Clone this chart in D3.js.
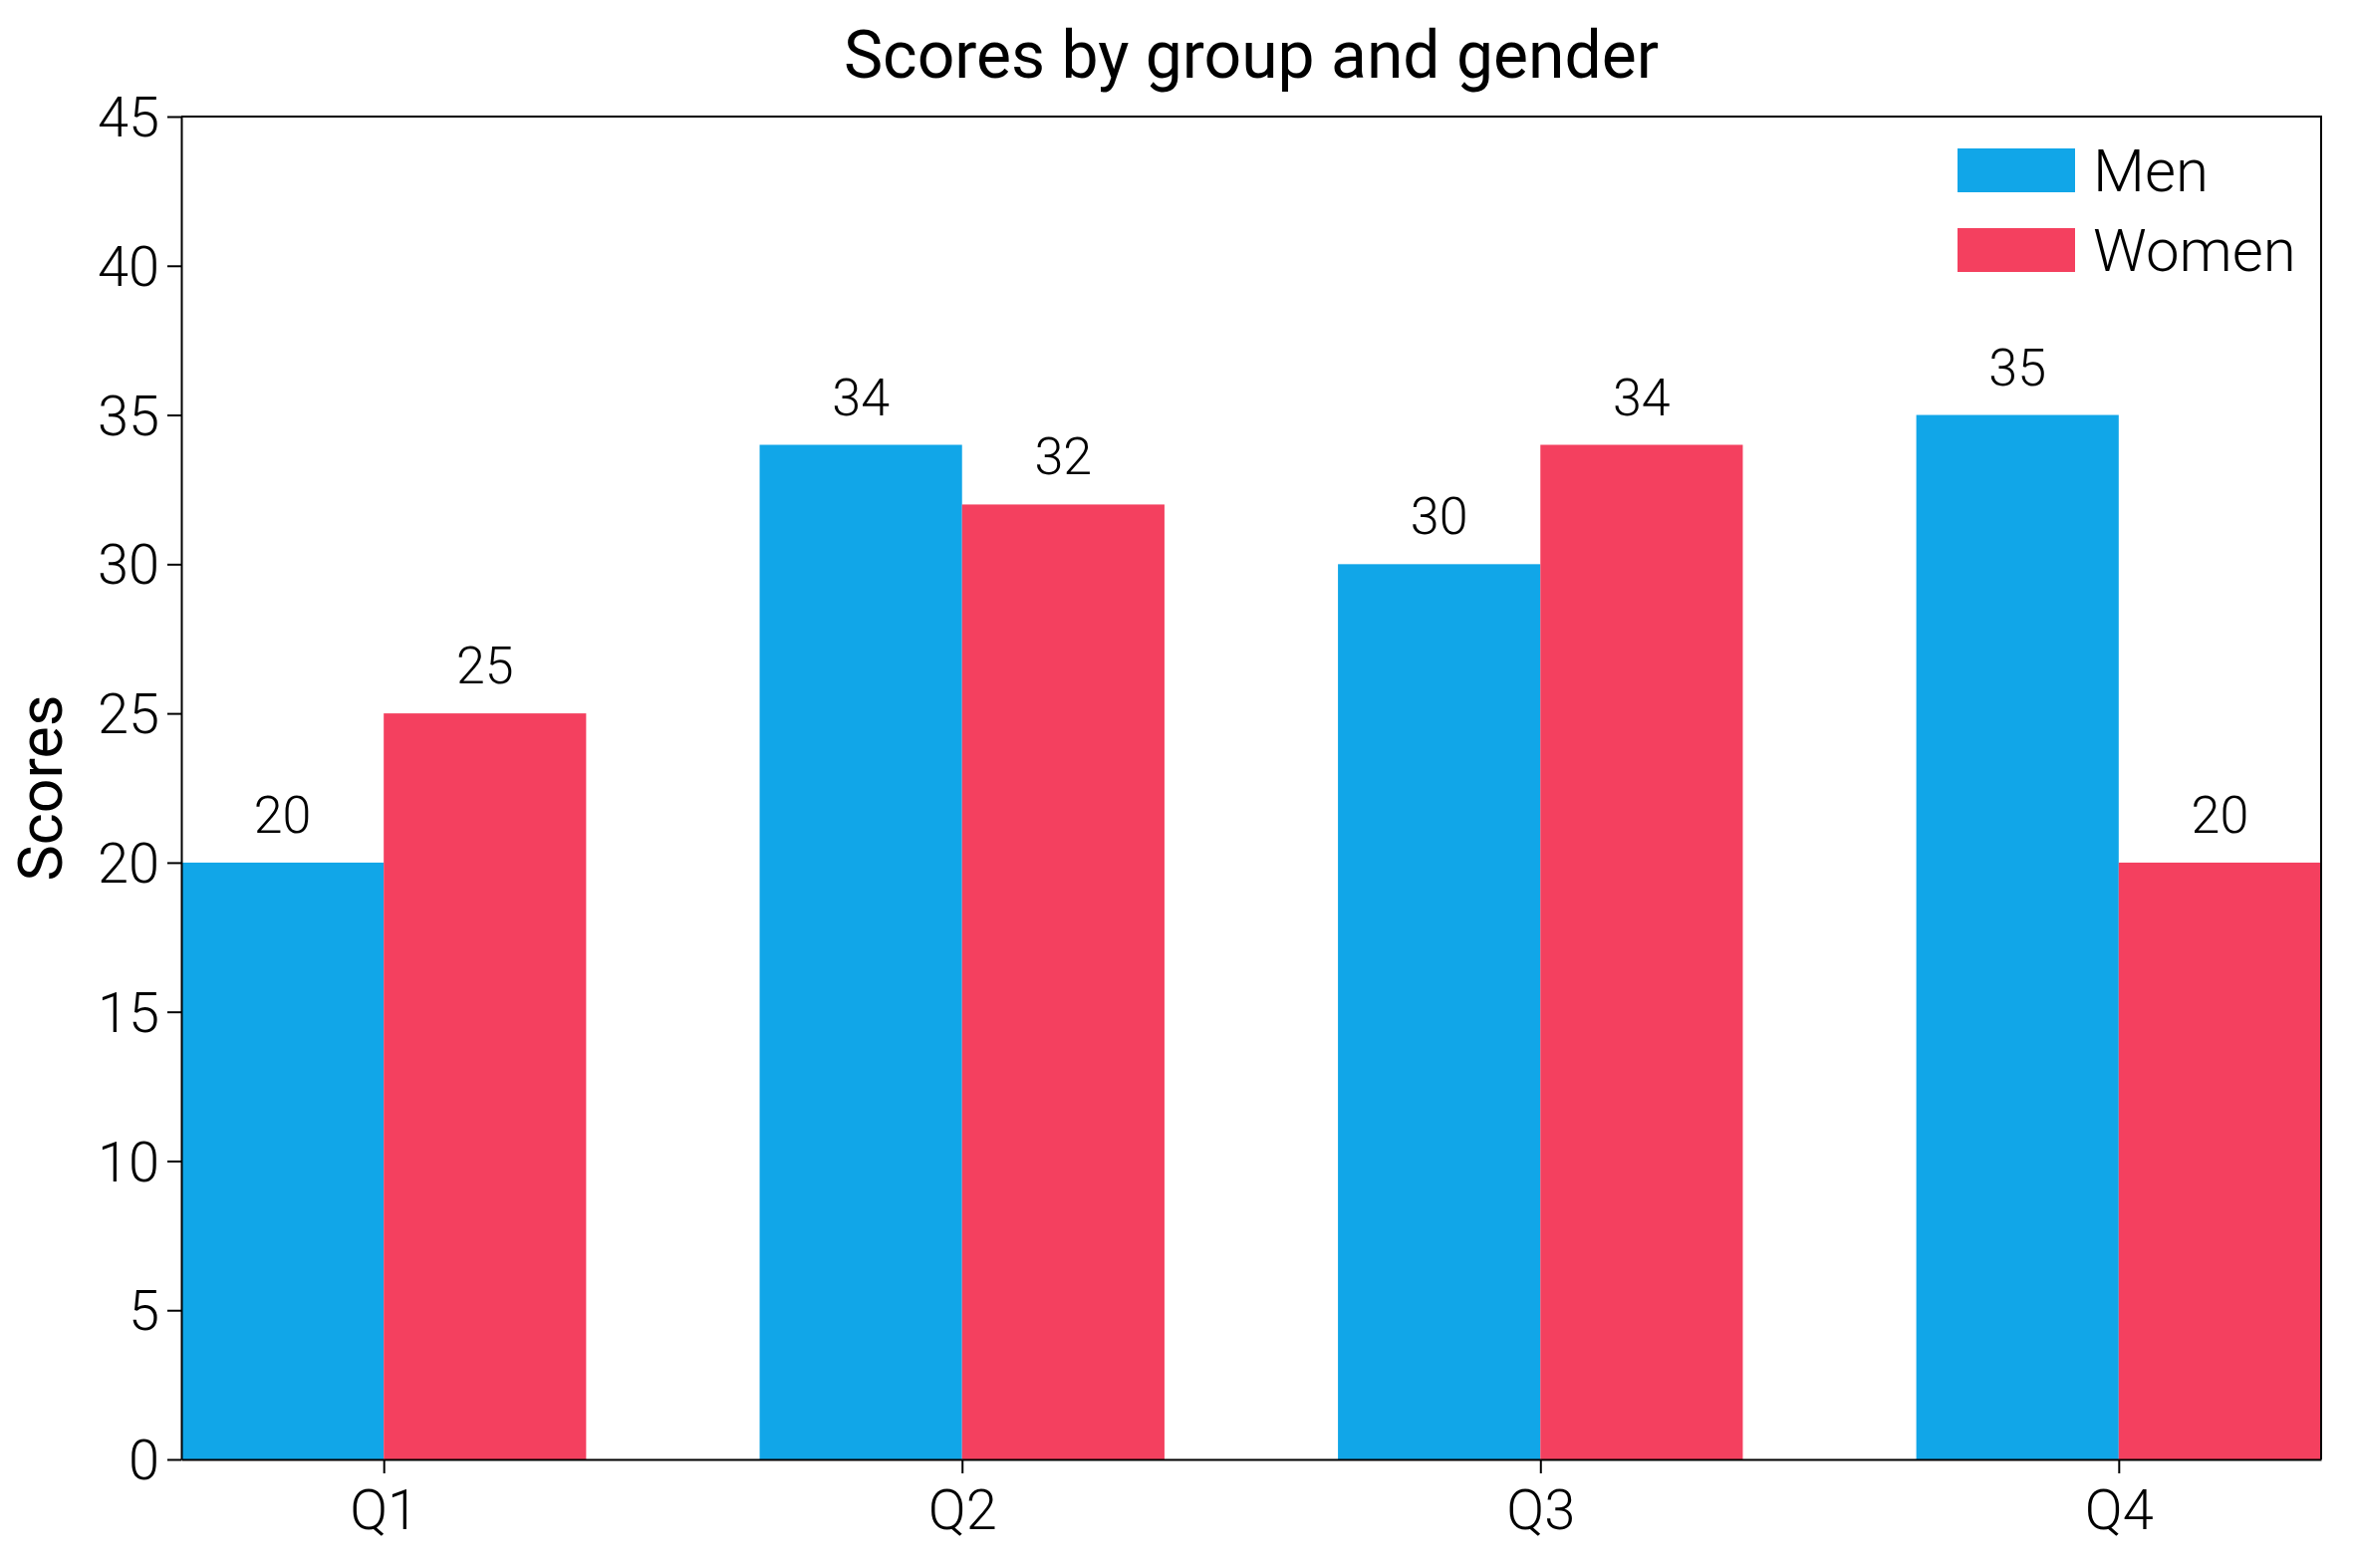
<!DOCTYPE html>
<html>
<head>
<meta charset="utf-8">
<script src="https://cdn.jsdelivr.net/npm/d3@7"></script>
<style>
  body { margin: 0; background: #fff; }
  text { font-family: Roboto, "Noto Sans", sans-serif; }
</style>
</head>
<body>
<script>
"use strict";

// Chart data
let categories = ["Q1", "Q2", "Q3", "Q4"];
let menScores = [20, 34, 30, 35];
let womenScores = [25, 32, 34, 20];
let yTicks = [0, 5, 10, 15, 20, 25, 30, 35, 40, 45];
let seriesNames = ["Men", "Women"];
let seriesColors = ["#11a6e8", "#f4405f"];

//Width and height
let w = 2362;
let h = 1574;
let margin = {top: 117, right: 32, bottom: 109, left: 182};
let barWidth = 0.35;

let svg = d3.select("body")
    .append("svg")
    .attr("width", w)
    .attr("height", h);

let x = d3.scaleLinear()
    .domain([-barWidth, categories.length - 1 + barWidth])
    .range([margin.left, w - margin.right]);

let y = d3.scaleLinear()
    .domain([0, 45])
    .range([h - margin.bottom, margin.top]);

let series = [menScores, womenScores];
let offsets = [-barWidth / 2, barWidth / 2];

// bars + value labels
series.forEach((vals, s) => {
    let g = svg.append("g");
    g.selectAll("rect")
        .data(vals)
        .enter().append("rect")
        .attr("x", (d, i) => x(i + offsets[s] - barWidth / 2))
        .attr("width", x(barWidth) - x(0))
        .attr("y", d => y(d))
        .attr("height", d => y(0) - y(d))
        .attr("fill", seriesColors[s]);

    g.selectAll("text")
        .data(vals)
        .enter().append("text")
        .attr("x", (d, i) => x(i + offsets[s]))
        .attr("y", d => y(d) - 30)
        .attr("text-anchor", "middle")
        .attr("font-size", 52)
        .attr("font-weight", 300)
        .text(d => d);
});

// axes
let xAxis = d3.axisBottom(x)
    .tickValues(d3.range(categories.length))
    .tickFormat(i => categories[i])
    .tickSize(14)
    .tickPadding(16)
    .tickSizeOuter(0);

let yAxis = d3.axisLeft(y)
    .tickValues(yTicks)
    .tickSize(14)
    .tickPadding(8)
    .tickSizeOuter(0);

let gx = svg.append("g")
    .attr("transform", `translate(0,${h - margin.bottom})`)
    .call(xAxis);

let gy = svg.append("g")
    .attr("transform", `translate(${margin.left},0)`)
    .call(yAxis);

[gx, gy].forEach(g => {
    g.selectAll("path, line").attr("stroke", "#000").attr("stroke-width", 2);
    g.selectAll("text")
        .attr("font-family", "Roboto")
        .attr("font-size", 56)
        .attr("font-weight", 300)
        .attr("fill", "#000");
});
gx.selectAll("text").attr("dy", "0.71em");
gy.selectAll("text").attr("dy", "0.35em");

// top and right spines
svg.append("path")
    .attr("d", `M${margin.left},${margin.top}H${w - margin.right}V${h - margin.bottom}`)
    .attr("fill", "none")
    .attr("stroke", "#000")
    .attr("stroke-width", 2);

// title
svg.append("text")
    .attr("x", (margin.left + w - margin.right) / 2)
    .attr("y", 78)
    .attr("text-anchor", "middle")
    .attr("font-size", 66)
    .text("Scores by group and gender");

// y label
svg.append("text")
    .attr("transform", `translate(62,${(margin.top + h - margin.bottom) / 2}) rotate(-90)`)
    .attr("text-anchor", "middle")
    .attr("font-size", 61)
    .text("Scores");

// legend
let legend = svg.append("g")
    .selectAll("g")
    .data(seriesNames)
    .enter().append("g")
    .attr("transform", (d, i) => `translate(1965,${149 + i * 80})`);

legend.append("rect")
    .attr("width", 118)
    .attr("height", 44)
    .attr("fill", (d, i) => seriesColors[i]);

legend.append("text")
    .attr("x", 136)
    .attr("y", 43)
    .attr("font-size", 60)
    .attr("font-weight", 300)
    .text(d => d);
</script>
</body>
</html>
